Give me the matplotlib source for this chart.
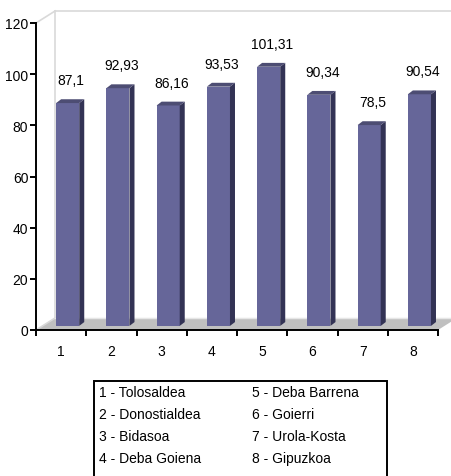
"""
bar chart of the 8 comarcas of gipuzkoa (index values), old excel style
with the fake 3d floor / wall and a boxed key under the plot

    python plot.py  -> out.png
"""

import numpy as np
import matplotlib
matplotlib.use("Agg")
import matplotlib.pyplot as plt
from matplotlib.patches import Polygon, Rectangle

regions = ["Tolosaldea", "Donostialdea", "Bidasoa", "Deba Goiena",
           "Deba Barrena", "Goierri", "Urola-Kosta", "Gipuzkoa"]
values = [87.1, 92.93, 86.16, 93.53, 101.31, 90.34, 78.5, 90.54]
yticks = [0, 20, 40, 60, 80, 100, 120]

FRONT = "#666699"
SIDE = "#333355"
TOP = "#4d4d73"
FLOOR = "#c0c0c0"
WALL = "#d9d9d9"

# fake depth, in data units
FLOOR_DX, FLOOR_DY = 0.38, 4.7
BAR_DX, BAR_DY = 0.1, 1.5
LIFT = 1.6

plt.rcParams["font.family"] = ["Liberation Sans", "DejaVu Sans"]
plt.rcParams["font.size"] = 10

fig = plt.figure(figsize=(4.52, 4.77), dpi=100)
ax = fig.add_axes([36 / 452, 146 / 477, 402 / 452, 307 / 477])

pos = np.arange(1, len(values) + 1)
ax.set_xlim(0.5, len(values) + 0.5)
ax.set_ylim(0, 120)

# floor + back wall outline
x0, x1 = 0.5, len(values) + 0.5
ax.add_patch(Polygon([(x0, 0), (x1, 0), (x1 + FLOOR_DX, FLOOR_DY), (x0 + FLOOR_DX, FLOOR_DY)],
                     closed=True, fc=FLOOR, ec="none", clip_on=False, zorder=1))
wl = dict(c=WALL, lw=1.2, clip_on=False, zorder=1)
ax.plot([x0 + FLOOR_DX, x0 + FLOOR_DX], [FLOOR_DY, 120 + FLOOR_DY], **wl)
ax.plot([x0 + FLOOR_DX, x1 + 1], [120 + FLOOR_DY, 120 + FLOOR_DY], **wl)
ax.plot([x0, x0 + FLOOR_DX], [120, 120 + FLOOR_DY], **wl)
ax.plot([x0, x0 + FLOOR_DX], [0, FLOOR_DY], **wl)
ax.plot([x0 + FLOOR_DX, x1 + 1], [FLOOR_DY, FLOOR_DY], c="#e6e6e6", lw=1, clip_on=False, zorder=1)

bars = ax.bar(pos + 0.13, values, width=0.46, bottom=LIFT, color=FRONT, zorder=3)
for b, v in zip(bars, values):
    left = b.get_x()
    right = left + b.get_width()
    top = LIFT + v
    ax.add_patch(Polygon([(right, LIFT), (right, top), (right + BAR_DX, top + BAR_DY),
                          (right + BAR_DX, LIFT + BAR_DY)], closed=True, fc=SIDE, ec="none", zorder=3))
    ax.add_patch(Polygon([(left, top), (right, top), (right + BAR_DX, top + BAR_DY),
                          (left + BAR_DX, top + BAR_DY)], closed=True, fc=TOP, ec="none", zorder=3))

# value labels, decimal comma
for x, v in zip(pos, values):
    ax.annotate(str(v).replace(".", ","), (x + 0.2, v), xytext=(0, 16.5),
                textcoords="offset points", ha="center", va="baseline", zorder=4)

for s in ["top", "right"]:
    ax.spines[s].set_visible(False)
for s in ["left", "bottom"]:
    ax.spines[s].set_linewidth(1.4)
    ax.spines[s].set_zorder(5)

ax.set_xticks(pos, [str(p) for p in pos])
ax.set_xticks(np.arange(0.5, len(values) + 1), minor=True)
ax.tick_params(axis="x", which="major", length=0, pad=10)
ax.tick_params(axis="x", which="minor", length=4, width=1.4)
ax.set_yticks(yticks)
ax.tick_params(axis="y", length=4, width=1.4, pad=1.5)

# key box, bottom edge runs off the picture
fig.patches.append(Rectangle((94 / 452, -0.05), 293 / 452, 0.05 + 95 / 477,
                             transform=fig.transFigure, fill=False, ec="black", lw=1.4))
rows = [393, 415, 437, 459]
for i, name in enumerate(regions):
    col = i // 4
    xx = (99 if col == 0 else 252) / 452
    yy = (477 - rows[i % 4]) / 477
    fig.text(xx, yy, f"{i + 1} - {name}", ha="left", va="center")

fig.savefig("out.png", dpi=100)
